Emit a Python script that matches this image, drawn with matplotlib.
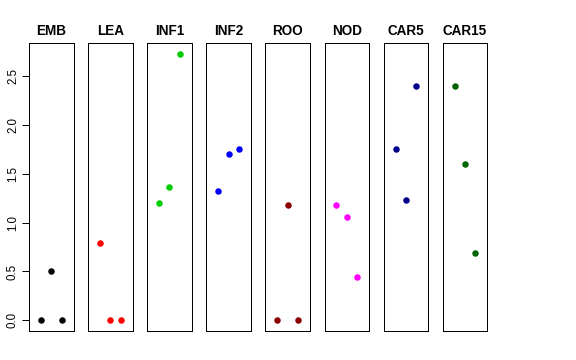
import matplotlib
matplotlib.use("Agg")
import matplotlib.pyplot as plt

# Organ names and the three values in each panel
organs = ["EMB", "LEA", "INF1", "INF2", "ROO", "NOD", "CAR5", "CAR15"]
emb = [0.0, 0.51, 0.0]
lea = [0.79, 0.0, 0.0]
inf1 = [1.20, 1.37, 2.73]
inf2 = [1.32, 1.70, 1.75]
roo = [0.0, 1.18, 0.0]
nod = [1.18, 1.06, 0.44]
car5 = [1.75, 1.23, 2.40]
car15 = [2.40, 1.60, 0.69]
values = [emb, lea, inf1, inf2, roo, nod, car5, car15]
colors = ["black", "red", "#00CD00", "blue", "#8B0000", "magenta", "#00008B", "#006400"]
yticks = [0.0, 0.5, 1.0, 1.5, 2.0, 2.5]

plt.rcParams["font.family"] = ["Liberation Sans", "DejaVu Sans"]

fig = plt.figure(figsize=(8, 5), dpi=72)

# shared y range, R style 4% padding
ymax = max(max(v) for v in values)
pad = ymax * 0.04

W = 576.0
H = 360.0
for i, (name, vals, col) in enumerate(zip(organs, values, colors)):
    left = (29 + 59.1 * i) / W
    ax = fig.add_axes([left, 29 / H, 44.5 / W, 288 / H])
    ax.scatter([1, 2, 3], vals, color=col, s=42, zorder=3, linewidths=0)
    ax.set_xlim(-0.16, 4.16)
    ax.set_ylim(-pad, ymax + pad)
    ax.set_xticks([])
    for sp in ax.spines.values():
        sp.set_linewidth(1.0)
        sp.set_color("black")
    ax.set_title(name, fontsize=13.5, fontweight="bold", pad=8)
    if i == 0:
        ax.set_yticks(yticks)
        ax.set_yticklabels(["%.1f" % t for t in yticks], rotation=90, va="center", fontsize=11.5)
        ax.tick_params(axis="y", length=7, width=1, pad=3)
    else:
        ax.set_yticks([])

fig.savefig("out.png", dpi=72)
